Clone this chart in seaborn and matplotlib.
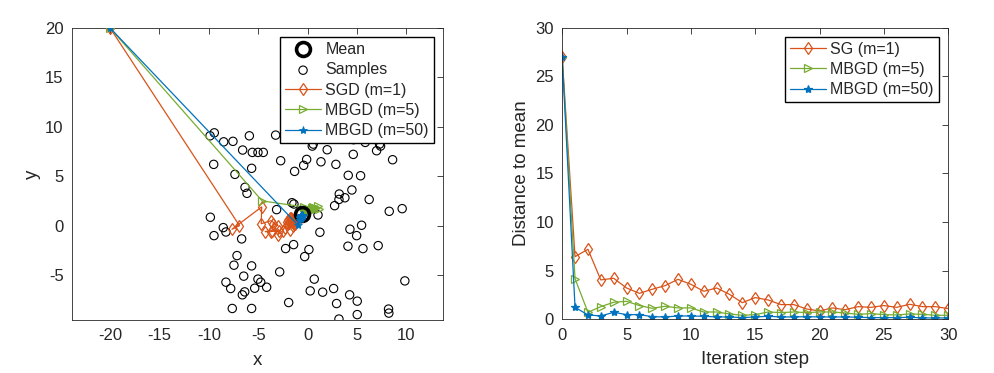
import numpy as np
import pandas as pd
import seaborn as sns
import matplotlib
matplotlib.use("Agg")
from matplotlib import pyplot as plt

# samples
sample_x = [-9.45, -9.88, -8.5, -7.56, -5.9, -3.24, -6.58, -5.6, -5.03, -4.49, -2.73, -9.51,
            -5.67, -7.36, -1.32, -0.4, -0.1, -6.34, -6.14, -1.59, -1.39, -9.85, -3.14,
            0.57, 0.47, 1.98, 4.65, 5.83, 7.28, 7.38, 6.98, 8.6, 4.62, 2.86, 1.35, 4.11,
            5.36, 4.48, 3.2, 3.77, 3.17, 6.23, 2.73, 9.57, 8.26, 1.05,
            1.24, 4.28, 5.46, 4.96, 4.08, 5.6, 7.14, 0.13, -0.3, 0.67, 0.26, 1.52, 2.63,
            4.25, 5.02, 2.93, 5.02, 3.17, 8.19, 8.22, 9.84,
            -8.54, -8.27, -9.48, -6.68, -7.15, -7.46, -5.67, -6.47, -8.27, -7.79, -5.03,
            -4.75, -4.15, -5.36, -6.37, -6.61, -2.83, -2.23, -1.42, -1.92, -7.63, -5.67]
sample_y = [9.39, 9.09, 8.48, 8.53, 9.09, 9.16, 7.65, 7.41, 7.41, 7.41, 6.57, 6.2,
            5.8, 5.19, 5.49, 6.1, 6.7, 3.88, 3.27, 2.32, 2.19, 0.85, 1.62,
            8.25, 8.05, 7.68, 8.7, 8.42, 8.25, 8.05, 7.58, 6.67, 7.21, 6.2, 6.46, 5.09,
            5.05, 3.61, 3.2, 2.82, 2.65, 2.65, 2.02, 1.72, 1.45, 1.08,
            -0.67, -0.36, 0.04, -1.01, -2.08, -2.32, -2.02, -2.42, -3.13, -5.41, -6.6, -6.73, -6.36,
            -7.0, -7.64, -7.88, -9.0, -9.45, -8.44, -8.85, -5.59,
            -0.2, -0.64, -1.01, -1.34, -3.03, -4.0, -4.07, -5.11, -5.72, -6.36, -5.41,
            -5.72, -6.23, -6.33, -6.7, -7.0, -4.68, -2.32, -1.92, -7.78, -8.38, -8.38]
mean_xy = (-0.6, 1.2)

# trajectories (iterations 0..30)
sgd_x = [-20, -6.9, -7.66, -4.65, -4.7, -3.7, -3.0, -3.5, -3.6, -4.3, -3.7, -2.9, -3.0, -2.5,
         -2.1, -2.3, -1.8, -2.0, -1.5, -1.5, -1.3, -1.7, -1.2, -1.6, -1.3, -1.8, -1.5, -1.9,
         -1.4, -1.8, -1.6]
sgd_y = [20, 0.0, -0.37, 1.9, 0.2, 0.5, 0.0, 0.2, -0.5, -0.6, -0.6, -0.5, -0.9, -0.5,
         0.4, -0.2, -0.4, 0.6, 0.0, 0.6, 0.7, 0.8, 0.4, 0.4, 0.2, 0.5, 0.35, 0.4,
         0.2, 0.8, 0.7]
mb5_x = [-20, -4.6, -0.4, 0.5, 1.0, 1.2, 0.7, 0.4, 0.6, 0.5, 0.4, 0.0, 0.1, -0.1, -0.25,
         -0.15, 0.1, 0.05, 0.0, 0.05, 0.1, 0.05, 0.0, -0.15, -0.05, -0.15, -0.2, -0.1,
         -0.15, -0.25, -0.2]
mb5_y = [20, 2.5, 1.9, 1.9, 2.0, 1.7, 1.8, 1.7, 1.8, 1.6, 1.8, 1.65, 1.5, 1.45, 1.4,
         1.35, 1.5, 1.45, 1.65, 1.5, 1.55, 1.6, 1.45, 1.45, 1.4, 1.35, 1.4, 1.45,
         1.45, 1.4, 1.3]
mb50_x = [-20, -0.95, -0.8, -0.75, -0.9, -0.75, -0.65, -0.7, -0.6, -0.7, -0.55, -0.7, -0.65,
          -0.55, -0.6, -0.7, -0.65, -0.6, -0.5, -0.7, -0.6, -0.55, -0.65, -0.6, -0.55, -0.6,
          -0.65, -0.6, -0.6, -0.55, -0.6]
mb50_y = [20, 0.02, 0.8, 0.9, 0.55, 0.75, 0.72, 0.95, 0.96, 0.88, 0.86, 0.9, 0.96,
          0.97, 1.03, 0.98, 0.9, 0.96, 0.98, 0.95, 0.96, 0.97, 0.96, 0.99, 1.04, 1.03,
          1.04, 0.99, 1.06, 1.07, 1.06]

# distance to mean (right panel)
steps = list(range(31))
dist_sg = [26.95, 6.44, 7.2, 4.05, 4.22, 3.22, 2.67, 3.09, 3.46, 4.11, 3.6, 2.88, 3.22, 2.57,
           1.71, 2.23, 1.99, 1.51, 1.51, 1.06, 0.86, 1.17, 0.99, 1.3, 1.23, 1.41, 1.23, 1.54,
           1.3, 1.3, 1.1]
dist_mb5 = [26.95, 4.18, 0.72, 1.3, 1.75, 1.85, 1.41, 1.13, 1.34, 1.17, 1.17, 0.75, 0.75, 0.55,
            0.41, 0.48, 0.75, 0.69, 0.75, 0.69, 0.75, 0.75, 0.65, 0.51, 0.58, 0.48, 0.45, 0.55,
            0.51, 0.41, 0.41]
dist_mb50 = [26.95, 1.23, 0.45, 0.34, 0.72, 0.48, 0.48, 0.27, 0.24, 0.34, 0.34, 0.31, 0.24, 0.24,
             0.17, 0.24, 0.31, 0.24, 0.24, 0.27, 0.24, 0.24, 0.24, 0.21, 0.17, 0.17, 0.17, 0.21,
             0.14, 0.14, 0.14]

c_org = "#D95319"
c_grn = "#77AC30"
c_blu = "#0072BD"

sns.set_style("white")
plt.rcParams['font.family'] = ['Liberation Sans', 'DejaVu Sans']
plt.rcParams['axes.unicode_minus'] = False

fig = plt.figure(figsize=(9.95, 3.73), dpi=100)
ax1 = fig.add_axes([0.0724, 0.142, 0.3728, 0.783])
ax2 = fig.add_axes([0.565, 0.144, 0.388, 0.782])

leg_kw = dict(loc='upper right', bbox_to_anchor=(0.975, 0.968), fancybox=False, edgecolor='k',
              framealpha=1, handlelength=2.3, borderpad=0.3, labelspacing=0.33,
              handletextpad=0.25, borderaxespad=0, fontsize=11.5)

# left panel
sns.scatterplot(x=sample_x, y=sample_y, ax=ax1, marker='o', s=36, facecolors='none',
                edgecolor='k', linewidth=0.8, label='Samples', zorder=2)
traj = [(sgd_x, sgd_y, c_org, 'd', 'SGD (m=1)'),
        (mb5_x, mb5_y, c_grn, '>', 'MBGD (m=5)')]
for tx, ty, col, mk, lab in traj:
    sns.lineplot(x=tx, y=ty, ax=ax1, sort=False, estimator=None, color=col, lw=0.9,
                 marker=mk, markersize=6, markerfacecolor='none', markeredgecolor=col,
                 markeredgewidth=0.9, label=lab, zorder=3)
ax1.plot([mean_xy[0]], [mean_xy[1]], 'o', ms=10, mfc='none', mec='k', mew=2.6,
         label='Mean', zorder=4)
sns.lineplot(x=mb50_x, y=mb50_y, ax=ax1, sort=False, estimator=None, color=c_blu, lw=0.9,
             marker='*', markersize=6, markeredgecolor=c_blu, markeredgewidth=0.6,
             label='MBGD (m=50)', zorder=5)

ax1.set_xlim(-23.85, 13.7)
ax1.set_ylim(-9.55, 20)
ax1.set_xticks([-20, -15, -10, -5, 0, 5, 10])
ax1.set_yticks([-5, 0, 5, 10, 15, 20])
ax1.set_xlabel('x', fontsize=13.5, labelpad=6)
ax1.set_ylabel('y', fontsize=13.5, labelpad=3)
h, l = ax1.get_legend_handles_labels()
order = [l.index(n) for n in ['Mean', 'Samples', 'SGD (m=1)', 'MBGD (m=5)', 'MBGD (m=50)']]
ax1.legend([h[i] for i in order], [l[i] for i in order], **leg_kw)

# right panel
df = pd.DataFrame({'step': steps * 3,
                   'dist': dist_sg + dist_mb5 + dist_mb50,
                   'method': ['SG (m=1)'] * 31 + ['MBGD (m=5)'] * 31 + ['MBGD (m=50)'] * 31})
for name, col, mk in [('SG (m=1)', c_org, 'd'), ('MBGD (m=5)', c_grn, '>'),
                      ('MBGD (m=50)', c_blu, '*')]:
    sub = df[df['method'] == name]
    kw = dict(markerfacecolor='none') if mk != '*' else {}
    sns.lineplot(data=sub, x='step', y='dist', ax=ax2, color=col, lw=0.9, marker=mk,
                 markersize=6, markeredgecolor=col, markeredgewidth=0.9, label=name, **kw)
ax2.set_xlim(0, 30)
ax2.set_ylim(0, 30)
ax2.set_xticks(range(0, 31, 5))
ax2.set_yticks(range(0, 31, 5))
ax2.set_xlabel('Iteration step', fontsize=13.5, labelpad=6)
ax2.set_ylabel('Distance to mean', fontsize=13.5, labelpad=4)
ax2.legend(**leg_kw)

for ax in (ax1, ax2):
    ax.tick_params(direction='in', length=4, width=0.6, top=True, right=True,
                   labelsize=12, colors='#262626', pad=6)
    for sp in ax.spines.values():
        sp.set_visible(True)
        sp.set_linewidth(0.6)
        sp.set_color('#262626')

plt.savefig('out.png', dpi=100)
